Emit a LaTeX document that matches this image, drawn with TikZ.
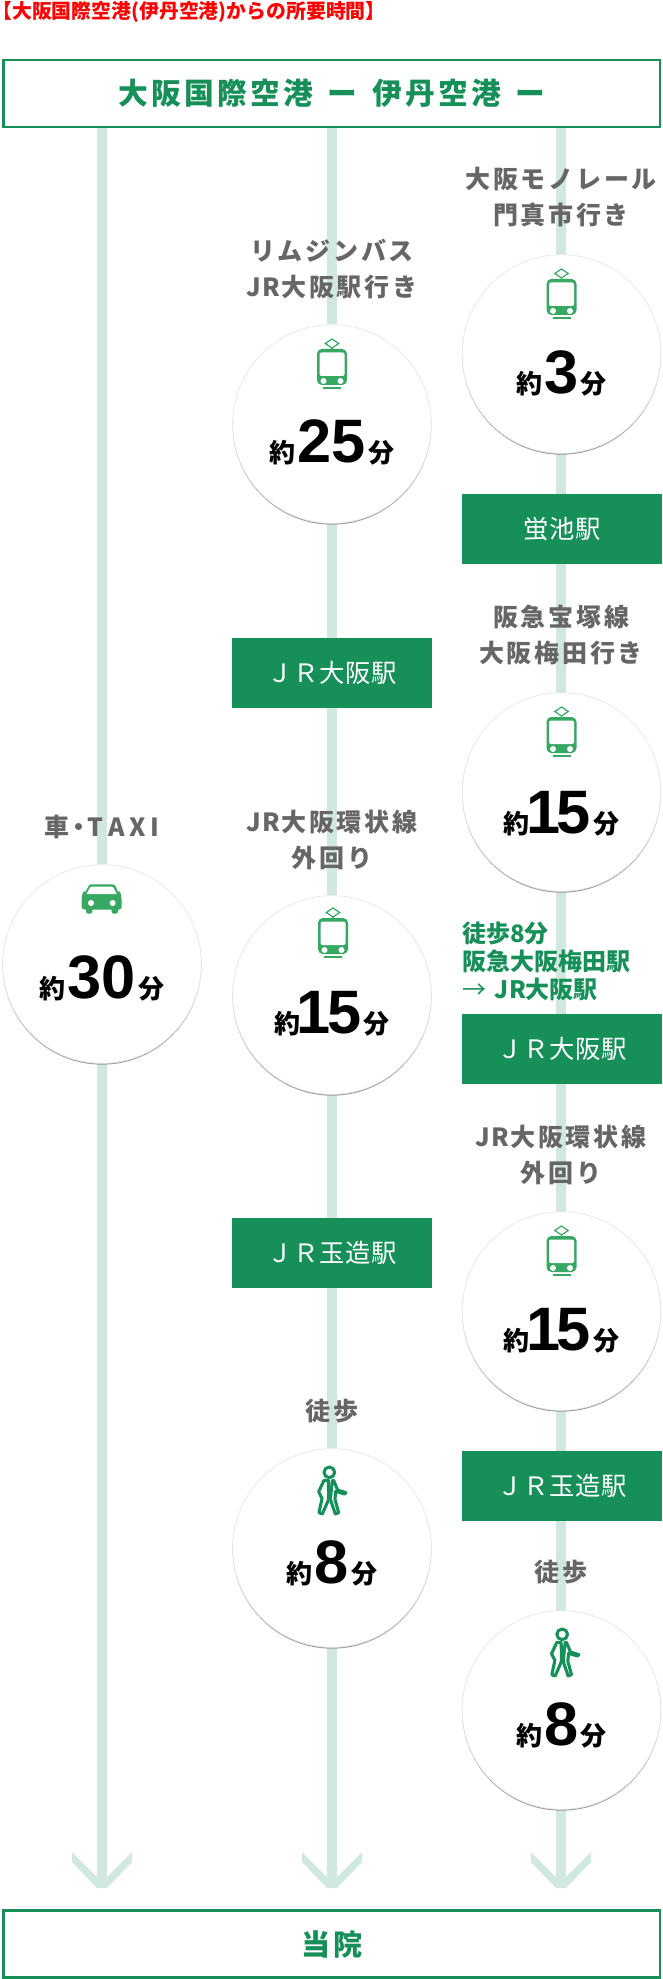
\documentclass[tikz,border=0pt]{standalone}
\usepackage{fontspec}
\setmainfont{Liberation Sans}
\newfontfamily\jp{Noto Sans CJK JP}
\newfontfamily\jpp[RawFeature=+palt]{Noto Sans CJK JP}
\newfontfamily\jpbx[LetterSpace=3]{Noto Sans CJK JP}
\newfontfamily\jpwide[LetterSpace=11]{Noto Sans CJK JP}
\usetikzlibrary{backgrounds,shadows,positioning}
\definecolor{flowc}{HTML}{D1E8DF}
\definecolor{darkg}{HTML}{168F59}
\definecolor{icong}{HTML}{36A862}
\definecolor{greytx}{HTML}{666666}
\newcommand{\mins}[1]{{\jp\bfseries 約}\kern1.5pt{\fontsize{46pt}{46pt}\selectfont\bfseries #1}\kern2pt{\jp\bfseries 分}}
\newcommand{\minsf}{{\jp\bfseries 約}\kern-2.5pt{\fontsize{46pt}{46pt}\selectfont\bfseries 1\kern-3pt 5}\kern2pt{\jp\bfseries 分}}
\newcommand{\JRl}{J\kern1ptR\kern1pt}
\tikzset{
  x=.75pt,y=-.75pt,
  endbox/.style={draw=darkg,line width=1.9pt,fill=white,minimum width=492.5pt,minimum height=50.5pt,inner sep=0pt,text=darkg},
  stbox/.style={fill=darkg,text=white,minimum width=149.5pt,minimum height=52pt,inner sep=0pt,font=\jpbx\fontsize{19pt}{20pt}\selectfont},
  circ/.style={circle,fill=white,draw=black!10,line width=.5pt,minimum size=149pt,inner sep=0pt,
    general shadow={shadow xshift=0pt,shadow yshift=-1pt,fill=black!45,opacity=.85}},
  lab/.style={text=greytx,align=center,inner sep=0pt,font=\jpwide\bfseries\fontsize{18.75pt}{27pt}\selectfont},
  timet/.style={anchor=base,inner sep=0pt,text=black,font=\fontsize{19.5pt}{22pt}\selectfont},
  flow/.style={draw=flowc,line width=7.5pt},
  trainicon/.pic={
    \fill[icong,rounded corners=3.6pt] (-15,-75) rectangle (15,-39);
    \fill[white,rounded corners=1.5pt] (-12.5,-71.5) rectangle (12.5,-48);
    \fill[white] (-8.5,-43) circle[radius=3] (8.5,-43) circle[radius=3];
    \draw[icong,line width=.9pt] (-9,-36) -- (9,-36);
    \draw[icong,line width=.9pt] (0,-75) -- (0,-76);
    \draw[icong,line width=.9pt] (0,-85) -- (6.7,-80.5) -- (0,-76) -- (-6.7,-80.5) -- cycle;
  },
  caricon/.pic={
    \begin{scope}[shift={(-42,-94)},x=.25pt,y=-.25pt]
      \fill[icong] (92,43) -- (158,43) .. controls (164,43) and (166,47) .. (168,52) -- (175,68) -- (177,62) -- (183,72) -- (185,92) -- (185,112) .. controls (185,118) and (180,118) .. (174,119) -- (174,126) .. controls (174,133) and (155,133) .. (155,126) -- (155,119) -- (97,119) -- (97,126) .. controls (97,133) and (78,133) .. (78,126) -- (78,119) .. controls (70,118) and (65,118) .. (65,112) -- (65,92) -- (67,72) -- (73,62) -- (75,68) -- (84,52) .. controls (86,47) and (88,43) .. (92,43) -- cycle;
      \fill[white] (95,50) -- (155,50) .. controls (160,50) and (161,54) .. (163,58) -- (170,72) -- (80,72) -- (87,58) .. controls (89,54) and (90,50) .. (95,50) -- cycle;
      \fill[white] (93,99) circle[radius=9] (158,99) circle[radius=9];
    \end{scope}
  },
  walkicon/.pic={
    \begin{scope}[shift={(-42,-98)},x=.25pt,y=-.25pt,darkg,line width=2.3pt,line join=round]
      \draw (118,67) circle[radius=16];
      \draw (115,91) -- (102,91) -- (86,125) -- (96,145) -- (87,188) -- (97,192) -- (116,148) -- cycle;
      \draw (127,91) -- (131,91) -- (143,120) -- (168,128) -- (164,132) -- (137,124) -- (135,148) -- (146,188) -- (136,192) -- (121,148) -- cycle;
    \end{scope}
  },
  chev/.pic={
    \fill[flowc] (-30,-36) -- (0,-6) -- (30,-36) -- (30,-26) -- (5,0) -- (-5,0) -- (-30,-26) -- cycle;
  }
}
\begin{document}
\begin{tikzpicture}
\useasboundingbox (0,0) rectangle (663,1979);

% Title
\node[anchor=west,inner sep=0pt,text=red,font=\jp\bfseries\fontsize{14.9pt}{16pt}\selectfont] (title) at (2,12) {{\jpp 【}大阪国際空港(伊丹空港)からの所要時間{\jpp 】}};

% End boxes
\node[endbox,font=\jpwide\bfseries\fontsize{22.3pt}{24pt}\selectfont] (top) at (331.75,93.5) {大阪国際空港\hspace{11pt}ー\hspace{11pt}伊丹空港\hspace{11pt}ー};
\node[endbox,font=\jpwide\bfseries\fontsize{21.75pt}{24pt}\selectfont] (bottom) at (331.75,1944) {当院};

% Circles
\node[circ] (c30) at (102,964) {};
\node[circ] (c25) at (332,424) {};
\node[circ] (c15a) at (332,995) {};
\node[circ] (c8a) at (332,1548) {};
\node[circ] (c3) at (561.5,354) {};
\node[circ] (c15b) at (561.5,792) {};
\node[circ] (c15c) at (561.5,1311) {};
\node[circ] (c8b) at (561.5,1710) {};

% Station boxes
\node[stbox] (s1) at (562,529) {蛍池駅};
\node[stbox] (s2) at (332,673) {ＪＲ大阪駅};
\node[stbox] (s3) at (562,1049) {ＪＲ大阪駅};
\node[stbox] (s4) at (332,1253) {ＪＲ玉造駅};
\node[stbox] (s5) at (562,1486) {ＪＲ玉造駅};

% Labels
\node[lab] (l1) at (561,197) {大阪モノレール\\門真市行き};
\node[lab] (l2) at (332,269) {リムジンバス\\\JRl 大阪駅行き};
\node[lab] (l3) at (561,635) {阪急宝塚線\\大阪梅田行き};
\node[lab] (l4) at (102,827) {車\kern-2.5pt・\kern-2.5pt T\kern3.5ptA\kern3.5ptX\kern3.5ptI};
\node[lab] (l5) at (332,840) {\JRl 大阪環状線\\外回り};
\node[lab] (l6) at (561,1155) {\JRl 大阪環状線\\外回り};
\node[lab] (l7) at (332,1411) {徒歩};
\node[lab] (l8) at (561,1572) {徒歩};
\node[anchor=west,inner sep=0pt,align=left,text=darkg,font=\jp\bfseries\fontsize{18pt}{21pt}\selectfont] (walk) at (462,961) {徒歩8分\\阪急大阪梅田駅\\{\mdseries →}\kern6.5pt JR大阪駅};

% Times
\node[timet] (t30) at (102,998) {\mins{30}};
\node[timet] (t25) at (332,462) {\mins{25}};
\node[timet] (t15a) at (332,1033) {\minsf};
\node[timet] (t8a) at (332,1583) {\mins{8}};
\node[timet] (t3) at (561.5,393) {\mins{3}};
\node[timet] (t15b) at (561.5,833) {\minsf};
\node[timet] (t15c) at (561.5,1350) {\minsf};
\node[timet] (t8b) at (561.5,1745) {\mins{8}};

% Icons
\pic at (c30) {caricon};
\pic at (c25) {trainicon};
\pic at ([yshift=1.5pt,xshift=.75pt]c15a) {trainicon};
\pic at (c3) {trainicon};
\pic at (c15b) {trainicon};
\pic at (c15c) {trainicon};
\pic at (c8a) {walkicon};
\pic at ([xshift=2.5pt]c8b) {walkicon};

% Connectors
\coordinate (tipA) at (102,1888);
\coordinate (tipB) at (332,1888);
\coordinate (tipC) at (561,1888);
\begin{scope}[on background layer]
  \fill[white] (0,0) rectangle (663,1979);
  \draw[flow] (c30 |- top.south) -- (c30);
  \draw[flow] (c30) -- (tipA);
  \draw[flow] (c25 |- top.south) -- (c25);
  \draw[flow] (c25) -- (s2);
  \draw[flow] (s2) -- (c15a);
  \draw[flow] (c15a) -- (s4);
  \draw[flow] (s4) -- (c8a);
  \draw[flow] (c8a) -- (tipB);
  \draw[flow] (tipC |- top.south) -- (tipC |- c3);
  \draw[flow] (tipC |- c3) -- (tipC |- s1);
  \draw[flow] (tipC |- s1) -- (tipC |- c15b);
  \draw[flow] (tipC |- c15b) -- (tipC |- s3);
  \draw[flow] (tipC |- s3) -- (tipC |- c15c);
  \draw[flow] (tipC |- c15c) -- (tipC |- s5);
  \draw[flow] (tipC |- s5) -- (tipC |- c8b);
  \draw[flow] (tipC |- c8b) -- (tipC);
  \pic at (tipA) {chev};
  \pic at (tipB) {chev};
  \pic at (tipC) {chev};
\end{scope}
\end{tikzpicture}
\end{document}
